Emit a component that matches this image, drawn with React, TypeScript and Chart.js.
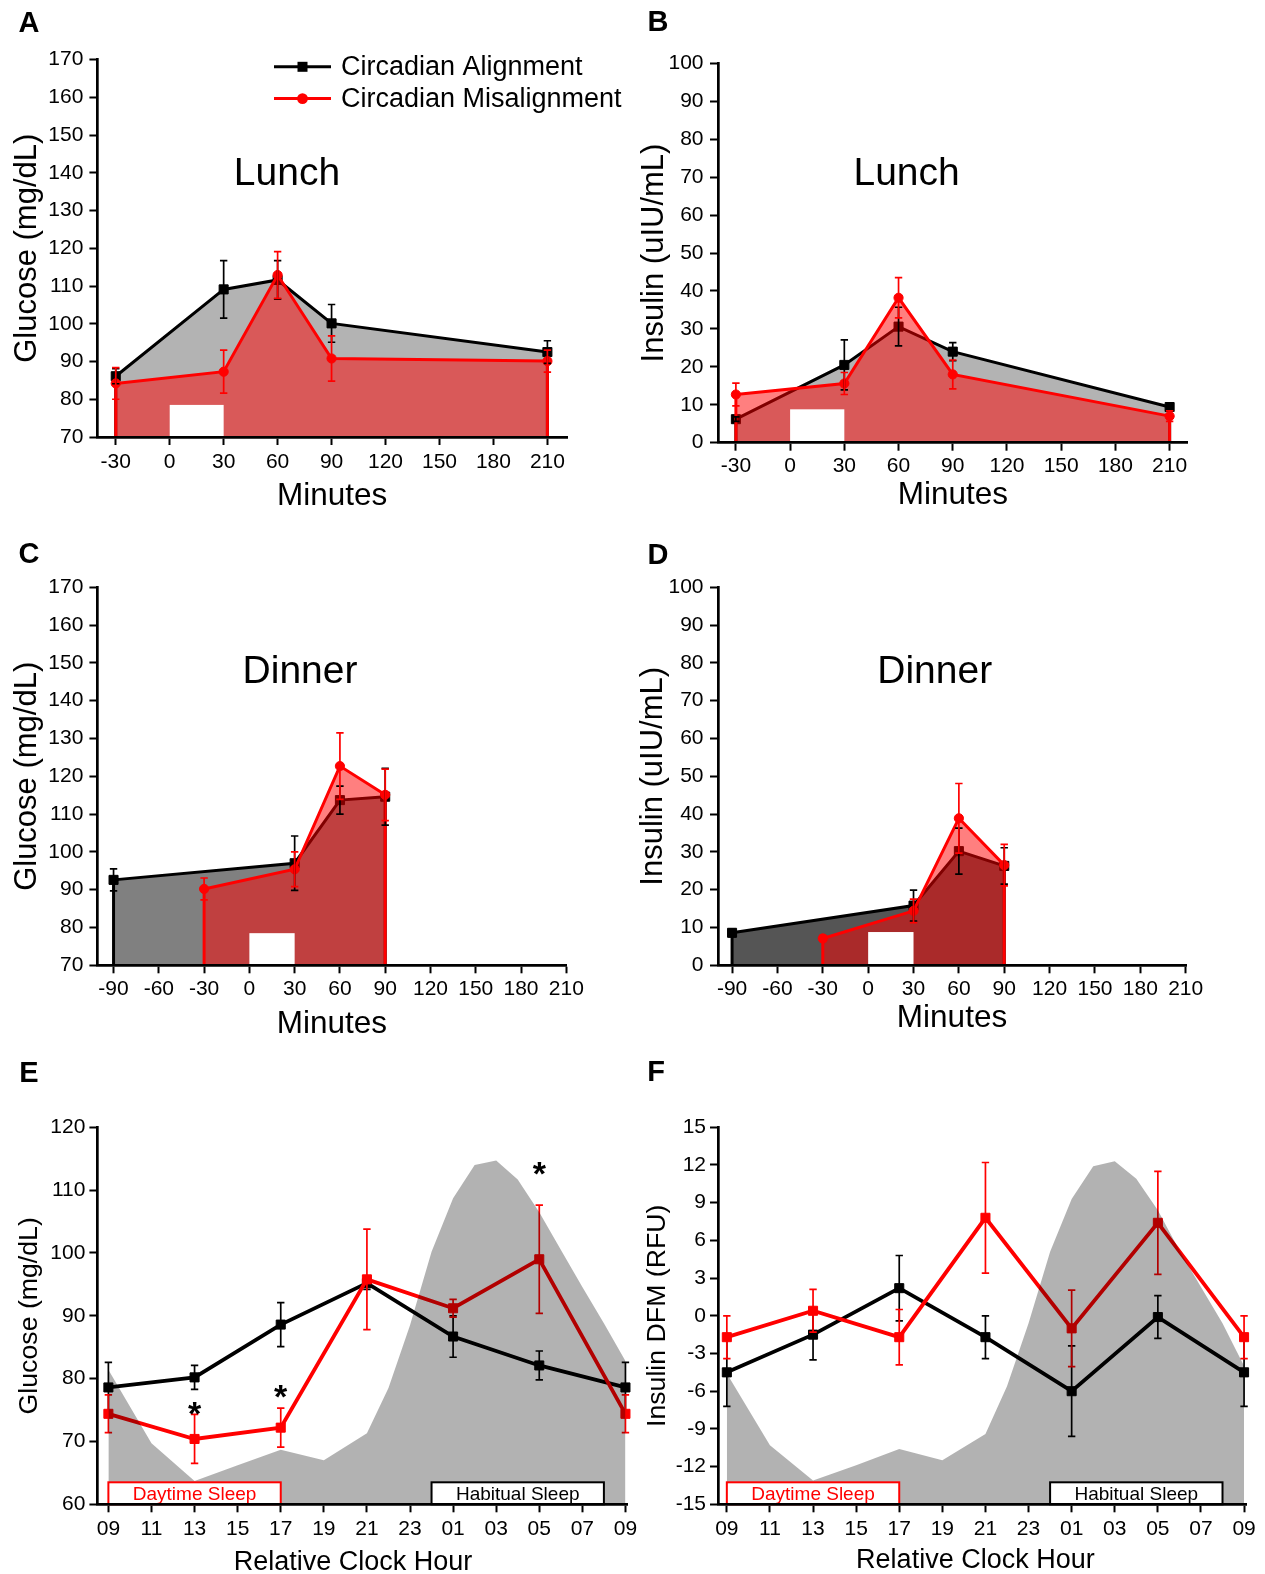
import React, { useEffect, useRef } from "react";
import { Chart, registerables } from "chart.js";

Chart.register(...registerables);

const FONT = '"Liberation Sans", Arial, Helvetica, sans-serif';
Chart.defaults.font.family = FONT;
Chart.defaults.color = "#000";

// ---------------- Data ----------------
// Lunch (panels A, B)
const lunchMinutes = [-30, 30, 60, 90, 210];
const lunchGlucoseAligned = [86.1, 109.1, 111.6, 100.1, 92.5];
const lunchGlucoseAlignedSem = [2.0, 7.6, 5.1, 5.0, 3.0];
const lunchGlucoseMisaligned = [84.2, 87.3, 112.9, 90.8, 90.1];
const lunchGlucoseMisalignedSem = [4.2, 5.7, 6.2, 6.0, 2.9];
const lunchInsulinAligned = [6.2, 20.5, 30.6, 24.0, 9.4];
const lunchInsulinAlignedSem = [0.6, 6.6, 5.1, 2.4, 0.8];
const lunchInsulinMisaligned = [12.7, 15.6, 38.2, 18.0, 7.0];
const lunchInsulinMisalignedSem = [3.0, 2.9, 5.3, 3.8, 1.4];

// Dinner (panels C, D)
const dinnerMinutesAligned = [-90, 30, 60, 90];
const dinnerMinutesMisaligned = [-30, 30, 60, 90];
const dinnerGlucoseAligned = [92.6, 97.0, 113.7, 114.6];
const dinnerGlucoseAlignedSem = [2.9, 7.2, 3.7, 7.5];
const dinnerGlucoseMisaligned = [90.2, 95.4, 122.7, 115.1];
const dinnerGlucoseMisalignedSem = [2.9, 4.6, 8.8, 6.8];
const dinnerInsulinAligned = [8.6, 15.8, 30.2, 26.3];
const dinnerInsulinAlignedSem = [1.0, 4.1, 6.1, 4.8];
const dinnerInsulinMisaligned = [7.1, 14.4, 38.9, 26.5];
const dinnerInsulinMisalignedSem = [0.8, 3.1, 9.2, 5.5];

// 24-h profiles (panels E, F); hours after 09:00
const clockHours = [0, 4, 8, 12, 16, 20, 24];
const glucoseAligned24 = [78.6, 80.2, 88.6, 95.2, 86.7, 82.1, 78.6];
const glucoseAligned24Sem = [4.0, 1.9, 3.5, 1.0, 3.3, 2.3, 4.0];
const glucoseMisaligned24 = [74.4, 70.4, 72.2, 95.8, 91.2, 99.0, 74.4];
const glucoseMisaligned24Sem = [3.0, 3.9, 3.1, 8.0, 1.4, 8.6, 3.0];
const insulinAligned24 = [-4.5, -1.5, 2.2, -1.7, -6.0, -0.1, -4.5];
const insulinAligned24Sem = [2.7, 2.0, 2.6, 1.7, 3.6, 1.7, 2.7];
const insulinMisaligned24 = [-1.7, 0.4, -1.7, 7.8, -1.0, 7.4, -1.7];
const insulinMisaligned24Sem = [1.7, 1.7, 2.2, 4.4, 3.05, 4.1, 1.7];

// Background circadian profile (grey shading)
const profileHours = [0, 2, 4, 6, 8, 10, 12, 13, 14, 15, 16, 17, 18, 19, 20, 21, 22, 23, 24];
const glucoseProfile = [81.4, 69.7, 63.7, 66.2, 68.7, 67.0, 71.3, 78.5, 88.5, 100.2, 108.7, 114.0, 114.7, 111.7, 106.5, 100.5, 94.6, 88.8, 82.8];
const insulinProfile = [-4.6, -10.3, -13.1, -11.9, -10.6, -11.5, -9.4, -5.6, -0.6, 5.1, 9.3, 11.9, 12.3, 10.9, 8.4, 5.2, 2.3, -0.6, -4.0];

// Significance markers (panel E)
const starHours = [4, 8, 20];
const starGlucose = [75.8, 78.4, 113.9];

// Windows
const mealWindow = [0, 30];
const mealMarkerGlucose = 78.5;
const mealMarkerInsulin = 8.8;
const daytimeSleepWindow = [0, 8];
const habitualSleepWindow = [15, 23];

// Ticks
const lunchMinuteTicks = [-30, 0, 30, 60, 90, 120, 150, 180, 210];
const dinnerMinuteTicks = [-90, -60, -30, 0, 30, 60, 90, 120, 150, 180, 210];
const glucoseTicks = [70, 80, 90, 100, 110, 120, 130, 140, 150, 160, 170];
const insulinTicks = [0, 10, 20, 30, 40, 50, 60, 70, 80, 90, 100];
const glucose24Ticks = [60, 70, 80, 90, 100, 110, 120];
const insulinDfmTicks = [-15, -12, -9, -6, -3, 0, 3, 6, 9, 12, 15];
const clockTickHours = [0, 2, 4, 6, 8, 10, 12, 14, 16, 18, 20, 22, 24];
const clockTickLabels = ["09", "11", "13", "15", "17", "19", "21", "23", "01", "03", "05", "07", "09"];

// ---------------- Styles ----------------
const BLACK = "#000000";
const RED = "#ff0000";
const RED_FILL = "rgba(255,0,0,0.5)";
const SHADE = "rgba(0,0,0,0.3)";
const TICK_SIZE = 21;

const pts = (xs: number[], ys: number[]) => xs.map((x, i) => ({ x, y: ys[i] }));

function series(
  label: string,
  xs: number[],
  ys: number[],
  errs: number[],
  color: string,
  pointStyle: string,
  fillColor: string | null,
  lineWidth: number,
  order: number,
  edges: boolean
) {
  return {
    label,
    data: pts(xs, ys),
    errors: errs,
    edgeLines: edges,
    borderColor: color,
    backgroundColor: fillColor || color,
    fill: fillColor ? "start" : false,
    borderWidth: lineWidth,
    pointStyle,
    pointRadius: pointStyle === "rect" ? 6.4 : 4.6,
    pointBackgroundColor: color,
    pointBorderColor: color,
    pointBorderWidth: 1,
    tension: 0,
    order,
    clip: 14,
  };
}

function shade(xs: number[], ys: number[]) {
  return {
    label: "profile",
    data: pts(xs, ys),
    fill: "start",
    backgroundColor: SHADE,
    borderColor: "rgba(0,0,0,0)",
    borderWidth: 0,
    pointRadius: 0,
    tension: 0,
    order: 0,
  };
}

function drawErrors(chart: any, i: number, cap: number, lw: number) {
  const ds = chart.data.datasets[i];
  if (!ds.errors) return;
  const meta = chart.getDatasetMeta(i);
  const ys = chart.scales.y;
  const ctx = chart.ctx;
  ctx.save();
  ctx.strokeStyle = ds.borderColor;
  ctx.lineWidth = lw;
  ds.data.forEach((d: any, j: number) => {
    const e = ds.errors[j];
    if (!e) return;
    const el = meta.data[j];
    const x = el.x;
    const y1 = ys.getPixelForValue(d.y + e);
    const y2 = ys.getPixelForValue(d.y - e);
    ctx.beginPath();
    ctx.moveTo(x, y1);
    ctx.lineTo(x, y2);
    ctx.moveTo(x - cap, y1);
    ctx.lineTo(x + cap, y1);
    ctx.moveTo(x - cap, y2);
    ctx.lineTo(x + cap, y2);
    ctx.stroke();
  });
  ctx.restore();
}

const decorPlugin = {
  id: "decor",
  afterDatasetDraw(chart: any, args: any, opts: any) {
    const ds = chart.data.datasets[args.index];
    const ctx = chart.ctx;
    if (ds.edgeLines) {
      const els = args.meta.data;
      const bottom = chart.chartArea.bottom;
      ctx.save();
      ctx.strokeStyle = ds.borderColor;
      ctx.lineWidth = ds.borderWidth;
      [els[0], els[els.length - 1]].forEach((p: any) => {
        ctx.beginPath();
        ctx.moveTo(p.x, p.y);
        ctx.lineTo(p.x, bottom);
        ctx.stroke();
      });
      ctx.restore();
    }
    if (!opts.errorsAfterAll) drawErrors(chart, args.index, opts.errCap, opts.errWidth);
  },
  afterDatasetsDraw(chart: any, _args: any, opts: any) {
    const ctx = chart.ctx;
    const xs = chart.scales.x;
    const ys = chart.scales.y;
    const ca = chart.chartArea;
    const ox = opts.origin.left;
    const oy = opts.origin.top;
    if (opts.errorsAfterAll) {
      chart.data.datasets.forEach((_d: any, i: number) => drawErrors(chart, i, opts.errCap, opts.errWidth));
    }
    ctx.save();
    if (opts.meal) {
      const x0 = xs.getPixelForValue(opts.meal.x0);
      const x1 = xs.getPixelForValue(opts.meal.x1);
      const yt = ys.getPixelForValue(opts.meal.top);
      ctx.fillStyle = "#ffffff";
      ctx.fillRect(x0, yt, x1 - x0, ca.bottom - yt);
    }
    if (opts.sleep) {
      opts.sleep.forEach((b: any) => {
        const x0 = xs.getPixelForValue(b.x0);
        const x1 = xs.getPixelForValue(b.x1);
        const h = 22;
        ctx.fillStyle = "#ffffff";
        ctx.fillRect(x0, ca.bottom - h, x1 - x0, h);
        ctx.strokeStyle = b.color;
        ctx.lineWidth = 2;
        ctx.strokeRect(x0, ca.bottom - h, x1 - x0, h);
        ctx.fillStyle = b.color;
        ctx.font = `19px ${FONT}`;
        ctx.textAlign = "center";
        ctx.textBaseline = "middle";
        ctx.fillText(b.label, (x0 + x1) / 2, ca.bottom - h / 2 + 1);
      });
    }
    if (opts.stars) {
      ctx.fillStyle = "#000";
      ctx.font = `bold 34px ${FONT}`;
      ctx.textAlign = "center";
      ctx.textBaseline = "alphabetic";
      opts.stars.xs.forEach((h: number, i: number) => {
        const x = xs.getPixelForValue(h);
        const y = ys.getPixelForValue(opts.stars.ys[i]);
        ctx.fillText("*", x, y + 0.58 * 34);
      });
    }
    if (opts.legend) {
      opts.legend.forEach((it: any) => {
        const y = it.y - oy;
        const x0 = it.x0 - ox;
        const x1 = it.x1 - ox;
        const xm = (x0 + x1) / 2;
        ctx.strokeStyle = it.color;
        ctx.lineWidth = 3;
        ctx.beginPath();
        ctx.moveTo(x0, y);
        ctx.lineTo(x1, y);
        ctx.stroke();
        ctx.fillStyle = it.color;
        if (it.pointStyle === "rect") {
          ctx.fillRect(xm - 5, y - 5, 10, 10);
        } else {
          ctx.beginPath();
          ctx.arc(xm, y, 5.4, 0, Math.PI * 2);
          ctx.fill();
        }
        ctx.fillStyle = "#000";
        ctx.font = `27px ${FONT}`;
        ctx.textAlign = "left";
        ctx.textBaseline = "middle";
        ctx.fillText(it.label, it.tx - ox, y + 1);
      });
    }
    (opts.texts || []).forEach((t: any) => {
      ctx.fillStyle = "#000";
      ctx.font = `${t.font} ${FONT}`;
      ctx.textAlign = "center";
      ctx.textBaseline = "middle";
      ctx.fillText(t.text, t.x - ox, t.y - oy);
    });
    ctx.restore();
  },
};

type Box = { left: number; top: number; width: number; height: number };
type Area = { l: number; t: number; r: number; b: number };

interface PanelCfg {
  canvas: Box;
  area: Area;
  xMin: number;
  xMax: number;
  xTicks: number[];
  xLabels?: string[];
  yMin: number;
  yMax: number;
  yTicks: number[];
  xTitle: string;
  showXTitle: boolean;
  yTitle: string;
  titleSize: number;
  xTitleSize: number;
  yTitlePad: number;
  xTitlePad: number;
  xTickPad: number;
  yTickPad: number;
  datasets: any[];
  decor: any;
}

function Panel({ cfg }: { cfg: PanelCfg }) {
  const ref = useRef<HTMLCanvasElement | null>(null);
  useEffect(() => {
    const c = cfg;
    const grid = {
      display: true,
      drawOnChartArea: false,
      drawTicks: true,
      tickLength: 8,
      tickWidth: 2,
      tickColor: "#000",
      color: "#000",
    };
    const border = { display: true, color: "#000", width: 2.7, z: 1 };
    const chart = new Chart(ref.current as HTMLCanvasElement, {
      type: "line",
      data: { datasets: c.datasets },
      options: {
        animation: false,
        responsive: false,
        events: [],
        layout: {
          autoPadding: false,
          padding: {
            left: 0,
            top: c.area.t - c.canvas.top,
            right: c.canvas.left + c.canvas.width - c.area.r,
            bottom: 0,
          },
        },
        plugins: {
          legend: { display: false },
          tooltip: { enabled: false },
          decor: c.decor,
        },
        scales: {
          x: {
            type: "linear",
            min: c.xMin,
            max: c.xMax,
            afterFit: (s: any) => {
              s.height = c.canvas.top + c.canvas.height - c.area.b;
            },
            afterBuildTicks: (s: any) => {
              s.ticks = c.xTicks.map((v) => ({ value: v }));
            },
            ticks: {
              autoSkip: false,
              maxRotation: 0,
              minRotation: 0,
              padding: c.xTickPad,
              color: "#000",
              font: { size: TICK_SIZE, family: FONT },
              callback: (v: any, i: number) => (c.xLabels ? c.xLabels[i] : String(v)),
            },
            grid,
            border,
            title: {
              display: c.showXTitle,
              text: c.xTitle,
              color: "#000",
              font: { size: c.xTitleSize, family: FONT },
              padding: { top: 0, bottom: c.xTitlePad },
            },
          },
          y: {
            type: "linear",
            min: c.yMin,
            max: c.yMax,
            afterFit: (s: any) => {
              s.width = c.area.l - c.canvas.left;
            },
            afterBuildTicks: (s: any) => {
              s.ticks = c.yTicks.map((v) => ({ value: v }));
            },
            ticks: {
              autoSkip: false,
              padding: c.yTickPad,
              color: "#000",
              font: { size: TICK_SIZE, family: FONT },
              callback: (v: any) => String(v),
            },
            grid,
            border,
            title: {
              display: true,
              text: c.yTitle,
              color: "#000",
              font: { size: c.titleSize, family: FONT },
              padding: { top: c.yTitlePad, bottom: 0 },
            },
          },
        },
      } as any,
      plugins: [decorPlugin as any],
    });
    return () => chart.destroy();
  }, [cfg]);
  const b = cfg.canvas;
  return (
    <canvas
      ref={ref}
      width={b.width}
      height={b.height}
      style={{ position: "absolute", left: b.left, top: b.top, width: b.width, height: b.height }}
    />
  );
}

const ERR = { errCap: 3.7, errWidth: 1.7 };
const LW = 3;
const LW24 = 3.8;
const LETTER = "bold 29px";
const MEAL_FONT = "39px";

const panels: PanelCfg[] = [
  // A
  {
    canvas: { left: 0, top: 0, width: 630, height: 516 },
    area: { l: 97.4, t: 59.5, r: 567, b: 437 },
    xMin: -40.2, xMax: 220.9, xTicks: lunchMinuteTicks,
    yMin: 70, yMax: 170, yTicks: glucoseTicks,
    xTitle: "Minutes", showXTitle: true, yTitle: "Glucose (mg/dL)", titleSize: 31, xTitleSize: 31.5,
    yTitlePad: 8.4, xTitlePad: 1, xTickPad: 4.5, yTickPad: 6,
    datasets: [
      series("Circadian Alignment", lunchMinutes, lunchGlucoseAligned, lunchGlucoseAlignedSem, BLACK, "rect", "#b3b3b3", LW, 2, true),
      series("Circadian Misalignment", lunchMinutes, lunchGlucoseMisaligned, lunchGlucoseMisalignedSem, RED, "circle", RED_FILL, LW, 1, true),
    ],
    decor: {
      origin: { left: 0, top: 0 }, errorsAfterAll: true, ...ERR,
      meal: { x0: mealWindow[0], x1: mealWindow[1], top: mealMarkerGlucose },
      legend: [
        { label: "Circadian Alignment", color: BLACK, pointStyle: "rect", y: 66.8, x0: 274, x1: 331, tx: 341 },
        { label: "Circadian Misalignment", color: RED, pointStyle: "circle", y: 98.6, x0: 274, x1: 331, tx: 341 },
      ],
      texts: [
        { text: "A", x: 29, y: 24, font: LETTER },
        { text: "Lunch", x: 287, y: 174, font: MEAL_FONT },
      ],
    },
  },
  // B
  {
    canvas: { left: 630, top: 0, width: 635, height: 515 },
    area: { l: 718, t: 63.3, r: 1187.7, b: 442.7 },
    xMin: -39.9, xMax: 220, xTicks: lunchMinuteTicks,
    yMin: 0, yMax: 100, yTicks: insulinTicks,
    xTitle: "Minutes", showXTitle: true, yTitle: "Insulin (uIU/mL)", titleSize: 31, xTitleSize: 31.5,
    yTitlePad: 6, xTitlePad: 1, xTickPad: 3, yTickPad: 6.5,
    datasets: [
      series("Circadian Alignment", lunchMinutes, lunchInsulinAligned, lunchInsulinAlignedSem, BLACK, "rect", "#b3b3b3", LW, 2, true),
      series("Circadian Misalignment", lunchMinutes, lunchInsulinMisaligned, lunchInsulinMisalignedSem, RED, "circle", RED_FILL, LW, 1, true),
    ],
    decor: {
      origin: { left: 630, top: 0 }, errorsAfterAll: true, ...ERR,
      meal: { x0: mealWindow[0], x1: mealWindow[1], top: mealMarkerInsulin },
      texts: [
        { text: "B", x: 658, y: 23, font: LETTER },
        { text: "Lunch", x: 906.6, y: 174, font: MEAL_FONT },
      ],
    },
  },
  // C
  {
    canvas: { left: 0, top: 530, width: 630, height: 514 },
    area: { l: 97.4, t: 587.3, r: 566.3, b: 965.3 },
    xMin: -100.7, xMax: 210, xTicks: dinnerMinuteTicks,
    yMin: 70, yMax: 170, yTicks: glucoseTicks,
    xTitle: "Minutes", showXTitle: true, yTitle: "Glucose (mg/dL)", titleSize: 31, xTitleSize: 31.5,
    yTitlePad: 8.4, xTitlePad: 1, xTickPad: 3.5, yTickPad: 6,
    datasets: [
      series("Circadian Alignment", dinnerMinutesAligned, dinnerGlucoseAligned, dinnerGlucoseAlignedSem, BLACK, "rect", "#808080", LW, 2, true),
      series("Circadian Misalignment", dinnerMinutesMisaligned, dinnerGlucoseMisaligned, dinnerGlucoseMisalignedSem, RED, "circle", RED_FILL, LW, 1, true),
    ],
    decor: {
      origin: { left: 0, top: 530 }, errorsAfterAll: true, ...ERR,
      meal: { x0: mealWindow[0], x1: mealWindow[1], top: mealMarkerGlucose },
      texts: [
        { text: "C", x: 29, y: 555, font: LETTER },
        { text: "Dinner", x: 300, y: 672.7, font: MEAL_FONT },
      ],
    },
  },
  // D
  {
    canvas: { left: 630, top: 530, width: 635, height: 508 },
    area: { l: 718, t: 587.3, r: 1186, b: 965.3 },
    xMin: -99.3, xMax: 210.2, xTicks: dinnerMinuteTicks,
    yMin: 0, yMax: 100, yTicks: insulinTicks,
    xTitle: "Minutes", showXTitle: true, yTitle: "Insulin (uIU/mL)", titleSize: 31, xTitleSize: 31.5,
    yTitlePad: 5, xTitlePad: 1, xTickPad: 3.5, yTickPad: 6.5,
    datasets: [
      series("Circadian Alignment", dinnerMinutesAligned, dinnerInsulinAligned, dinnerInsulinAlignedSem, BLACK, "rect", "#555555", LW, 2, true),
      series("Circadian Misalignment", dinnerMinutesMisaligned, dinnerInsulinMisaligned, dinnerInsulinMisalignedSem, RED, "circle", RED_FILL, LW, 1, true),
    ],
    decor: {
      origin: { left: 630, top: 530 }, errorsAfterAll: true, ...ERR,
      meal: { x0: mealWindow[0], x1: mealWindow[1], top: mealMarkerInsulin },
      texts: [
        { text: "D", x: 658, y: 556, font: LETTER },
        { text: "Dinner", x: 934.7, y: 672.7, font: MEAL_FONT },
      ],
    },
  },
  // E
  {
    canvas: { left: 0, top: 1050, width: 660, height: 524 },
    area: { l: 97.4, t: 1127.3, r: 627.6, b: 1504.3 },
    xMin: -0.51, xMax: 24.1, xTicks: clockTickHours, xLabels: clockTickLabels,
    yMin: 60, yMax: 120, yTicks: glucose24Ticks,
    xTitle: "Relative Clock Hour", showXTitle: false, yTitle: "Glucose (mg/dL)", titleSize: 26.7, xTitleSize: 27,
    yTitlePad: 14, xTitlePad: 0, xTickPad: 4.5, yTickPad: 4,
    datasets: [
      series("Circadian Alignment", clockHours, glucoseAligned24, glucoseAligned24Sem, BLACK, "rect", null, LW24, 2, false),
      series("Circadian Misalignment", clockHours, glucoseMisaligned24, glucoseMisaligned24Sem, RED, "rect", null, LW24, 1, false),
      shade(profileHours, glucoseProfile),
    ],
    decor: {
      origin: { left: 0, top: 1050 }, errorsAfterAll: false, ...ERR,
      sleep: [
        { x0: daytimeSleepWindow[0], x1: daytimeSleepWindow[1], label: "Daytime Sleep", color: RED },
        { x0: habitualSleepWindow[0], x1: habitualSleepWindow[1], label: "Habitual Sleep", color: BLACK },
      ],
      stars: { xs: starHours, ys: starGlucose },
      texts: [
        { text: "E", x: 29, y: 1074, font: LETTER },
        { text: "Relative Clock Hour", x: 353, y: 1563, font: "27px" },
      ],
    },
  },
  // F
  {
    canvas: { left: 630, top: 1050, width: 635, height: 524 },
    area: { l: 718, t: 1127.3, r: 1246, b: 1504.3 },
    xMin: -0.41, xMax: 24.09, xTicks: clockTickHours, xLabels: clockTickLabels,
    yMin: -15, yMax: 15, yTicks: insulinDfmTicks,
    xTitle: "Relative Clock Hour", showXTitle: false, yTitle: "Insulin DFM (RFU)", titleSize: 26.7, xTitleSize: 27,
    yTitlePad: 11.6, xTitlePad: 0, xTickPad: 4.5, yTickPad: 4,
    datasets: [
      series("Circadian Alignment", clockHours, insulinAligned24, insulinAligned24Sem, BLACK, "rect", null, LW24, 2, false),
      series("Circadian Misalignment", clockHours, insulinMisaligned24, insulinMisaligned24Sem, RED, "rect", null, LW24, 1, false),
      shade(profileHours, insulinProfile),
    ],
    decor: {
      origin: { left: 630, top: 1050 }, errorsAfterAll: false, ...ERR,
      sleep: [
        { x0: daytimeSleepWindow[0], x1: daytimeSleepWindow[1], label: "Daytime Sleep", color: RED },
        { x0: habitualSleepWindow[0], x1: habitualSleepWindow[1], label: "Habitual Sleep", color: BLACK },
      ],
      texts: [
        { text: "F", x: 656, y: 1073, font: LETTER },
        { text: "Relative Clock Hour", x: 975.4, y: 1560.5, font: "27px" },
      ],
    },
  },
];

export default function App() {
  return (
    <div
      style={{
        position: "absolute",
        left: 0,
        top: 0,
        width: 1265,
        height: 1574,
        background: "#ffffff",
        overflow: "hidden",
      }}
    >
      {panels.map((p, i) => (
        <Panel key={i} cfg={p} />
      ))}
    </div>
  );
}
